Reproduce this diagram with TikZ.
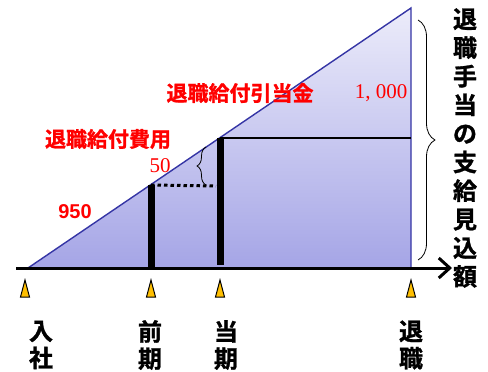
\documentclass[tikz,border=0pt]{standalone}
\usepackage{fontspec}
\setmainfont{Liberation Serif}
\newfontfamily\jpb[BoldFont={* Bold}, BoldFeatures={FakeBold=1.2}]{Noto Sans CJK JP}
\newfontfamily\numsans{Liberation Sans}
\usetikzlibrary{arrows.meta,decorations.pathreplacing}
\definecolor{edgeblue}{HTML}{3535A5}
\definecolor{topfill}{HTML}{ECECFA}
\definecolor{botfill}{HTML}{A5A5E6}
\definecolor{markfill}{HTML}{FFBF00}
\tikzset{
  redjp/.style={text=red, font=\jpb\bfseries\fontsize{21}{22}\selectfont, inner sep=0pt},
  rednum/.style={text=red, font=\fontsize{21}{22}\selectfont, inner sep=0pt},
  blackjp/.style={text=black, font=\jpb\bfseries\fontsize{24}{27}\selectfont, inner sep=0pt, align=center},
  bar/.style={line width=7pt},
  marker/.style={fill=markfill, draw=black, line width=1pt},
}
\begin{document}
\begin{tikzpicture}[x=1pt,y=-1pt]
\useasboundingbox (0,0) rectangle (488,372);
% key points
\coordinate (A) at (28,268);
\coordinate (T) at (411,8);
\coordinate (B) at (411,268);
\coordinate (P) at (151,185);
\coordinate (Pb) at (151,268);
\coordinate (C) at (220,138);
\coordinate (Cb) at (220,265);
\coordinate (Cr) at (411,138);
\coordinate (D) at (216,186);
\coordinate (AxL) at (16,268);
\coordinate (AxR) at (452,268);
% triangle
\shade[top color=topfill, bottom color=botfill] (A) -- (T) -- (B) -- cycle;
\draw[edgeblue, line width=1.4pt] (A) -- (T) -- (B);
% horizontal line from current
\draw[line width=1.3pt] (C) -- (Cr);
% dotted
\draw[line width=3pt, dash pattern=on 3.5pt off 3pt] (P) -- (D);
% bars
\draw[bar] (P) -- (Pb);
\draw[bar] (C) -- (Cb);
% axis
\draw[line width=3pt, -{Straight Barb[length=11pt,width=20pt,line width=3pt]}] (AxL) -- (AxR);
% braces
\draw[decorate, decoration={brace, amplitude=9pt}, line width=0.8pt] (206,185) -- (206,147);
\draw[decorate, decoration={brace, amplitude=17pt}, line width=0.8pt] (418,20) -- (418,260);
% markers
\foreach \n/\x in {m1/25, m2/151, m3/220, m4/411}{
  \draw[marker] (\x-4.5,297) -- (\x,280) -- (\x+4.5,297) -- cycle;
}
% labels
\node[redjp] (hikiate) at (240,93) {退職給付引当金};
\node[redjp] (hiyou) at (108,139) {退職給付費用};
\node[rednum] (fifty) at (160,166) {50};
\node[rednum, font=\numsans\bfseries\fontsize{20}{22}\selectfont] (nine) at (75,212) {950};
\node[rednum] (thousand) at (381,93) {1, 000};
\node[blackjp] (nyusha) at (41,345) {入\\社};
\node[blackjp] (zenki) at (150,345) {前\\期};
\node[blackjp] (touki) at (226,345) {当\\期};
\node[blackjp] (taishoku) at (411,345) {退\\職};
\node[blackjp, font=\jpb\bfseries\fontsize{24}{28.6}\selectfont] (mikomi) at (465,148) {退\\職\\手\\当\\の\\支\\給\\見\\込\\額};
\end{tikzpicture}
\end{document}
